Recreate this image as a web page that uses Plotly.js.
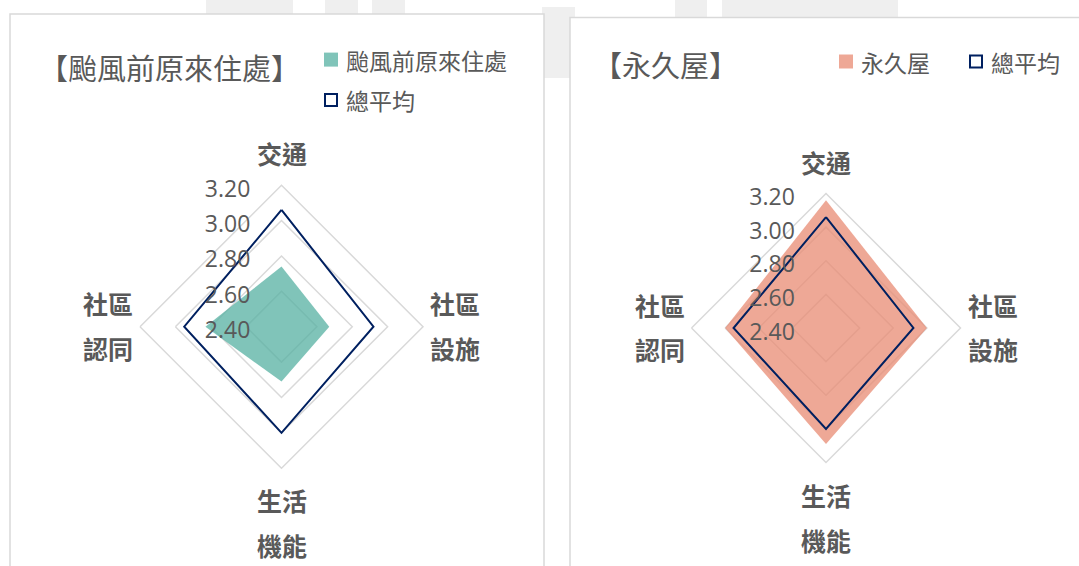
<!DOCTYPE html>
<html>
<head>
<meta charset="utf-8">
<script src="https://cdn.plot.ly/plotly-3.0.1.min.js"></script>
<style>
html,body{margin:0;padding:0;background:#ffffff;}
#chart{width:1079px;height:566px;}
</style>
</head>
<body>
<div id="chart"></div>
<script>
// ---------- data ----------
const categories = ['交通', '社區設施', '生活機能', '社區認同'];
const preTyphoonName = '颱風前原來住處';
const permanentName = '永久屋';
const averageName = '總平均';
const preTyphoon = [2.74, 2.67, 2.71, 2.83];
const permanent = [3.16, 3.00, 3.09, 3.00];
const overallAvg = [3.06, 2.92, 3.00, 2.95];
const radialTicks = [2.40, 2.60, 2.80, 3.00, 3.20];
const radialRange = [2.40, 3.20];
const panelTitles = ['【颱風前原來住處】', '【永久屋】'];

// ---------- style ----------
const W = 1079, H = 566;
const TEXT = '#595959';
const GRID = '#D9D9D9';
const NAVY = '#002060';
const TEAL = 'rgba(86,176,162,0.75)';
const SALMON = 'rgba(232,139,115,0.75)';
const CJK = '"Noto Sans CJK TC", "Noto Sans", sans-serif';
const NUM = '"Open Sans", "Noto Sans", sans-serif';

const px = x => x / W;
const py = y => 1 - y / H;

const panels = [
  {cx: 281.5, cy: 326.7, R: 141.5},
  {cx: 826.0, cy: 328.0, R: 134.5}
];

function closed(a) { return a.concat([a[0]]); }
const thetaClosed = closed(categories);

const traces = [
  {type: 'scatterpolar', subplot: 'polar', r: closed(preTyphoon), theta: thetaClosed,
   mode: 'lines', fill: 'toself', fillcolor: TEAL, line: {width: 0, color: TEAL},
   name: preTyphoonName, showlegend: false, hoverinfo: 'skip'},
  {type: 'scatterpolar', subplot: 'polar', r: closed(overallAvg), theta: thetaClosed,
   mode: 'lines', line: {width: 2, color: NAVY}, name: averageName, showlegend: false},
  {type: 'scatterpolar', subplot: 'polar2', r: closed(permanent), theta: thetaClosed,
   mode: 'lines', fill: 'toself', fillcolor: SALMON, line: {width: 0, color: SALMON},
   name: permanentName, showlegend: false, hoverinfo: 'skip'},
  {type: 'scatterpolar', subplot: 'polar2', r: closed(overallAvg), theta: thetaClosed,
   mode: 'lines', line: {width: 2, color: NAVY}, name: averageName, showlegend: false}
];

function polarLayout(p) {
  return {
    domain: {x: [px(p.cx - p.R), px(p.cx + p.R)], y: [py(p.cy + p.R), py(p.cy - p.R)]},
    bgcolor: 'rgba(0,0,0,0)',
    gridshape: 'linear',
    radialaxis: {
      range: radialRange, tickvals: radialTicks, tickformat: '.2f',
      angle: 90, side: 'counterclockwise',
      showline: false, gridcolor: GRID, gridwidth: 1.5,
      ticks: 'outside', ticklen: 10, tickcolor: 'rgba(0,0,0,0)',
      tickfont: {family: NUM, size: 23, color: TEXT}
    },
    angularaxis: {
      type: 'category', categoryarray: categories, direction: 'clockwise', rotation: 90,
      showgrid: false, showline: true, linecolor: GRID, linewidth: 1.5,
      ticks: '', showticklabels: false
    }
  };
}

// shapes: watermark, panels, legend keys
const shapes = [];
function rectPx(x0, y0, x1, y1, opts) {
  return Object.assign({type: 'rect', xref: 'paper', yref: 'paper',
    x0: px(x0), x1: px(x1), y0: py(y1), y1: py(y0), layer: 'below'}, opts);
}
const wm = {fillcolor: '#EFEFEF', line: {width: 0}};
[[206, 0, 293, 14], [325, 0, 358, 14], [372, 0, 405, 14], [542, 7, 575, 78],
 [675, 0, 707, 17], [722, 0, 898, 17]].forEach(r => shapes.push(rectPx(r[0], r[1], r[2], r[3], wm)));
shapes.push(rectPx(10, 14, 544, 600, {fillcolor: '#FFFFFF', line: {color: GRID, width: 1.5}}));
shapes.push(rectPx(570, 17.5, 1100, 600, {fillcolor: '#FFFFFF', line: {color: GRID, width: 1.5}}));

// legend keys (drawn manually to match the original layout)
const legendItems = [
  {x: 324, y: 59.6, name: preTyphoonName, fill: TEAL, open: false},
  {x: 324, y: 100, name: averageName, fill: null, open: true},
  {x: 839, y: 61.5, name: permanentName, fill: SALMON, open: false},
  {x: 969, y: 61.5, name: averageName, fill: null, open: true}
];
const annotations = [];
legendItems.forEach(it => {
  if (it.open) {
    shapes.push(rectPx(it.x + 1, it.y - 6, it.x + 13, it.y + 6,
      {fillcolor: 'rgba(0,0,0,0)', line: {color: NAVY, width: 2}, layer: 'above'}));
  } else {
    shapes.push(rectPx(it.x, it.y - 7, it.x + 14, it.y + 7,
      {fillcolor: it.fill, line: {width: 0}, layer: 'above'}));
  }
  annotations.push({xref: 'paper', yref: 'paper', x: px(it.x + 20), y: py(it.y),
    xanchor: 'left', yanchor: 'middle', showarrow: false, text: it.name,
    font: {family: CJK, size: 23, color: TEXT}});
});

// titles
const titlePos = [{x: 169.5, y: 67}, {x: 665, y: 64}];
panelTitles.forEach((t, i) => annotations.push({xref: 'paper', yref: 'paper',
  x: px(titlePos[i].x), y: py(titlePos[i].y), xanchor: 'center', yanchor: 'middle',
  showarrow: false, text: t, font: {family: CJK, size: 29, color: TEXT}}));

// category labels around each radar (two characters per line)
const gap = 32, lineGap = 45;
panels.forEach(p => {
  categories.forEach((c, i) => {
    const lines = c.length > 2 ? [c.slice(0, 2), c.slice(2)] : [c];
    const ang = Math.PI / 2 - i * 2 * Math.PI / categories.length; // clockwise from top
    const d = p.R + gap;
    const ax = p.cx + d * Math.cos(ang);
    const ay = p.cy - d * Math.sin(ang);
    lines.forEach((ln, k) => {
      let yy;
      if (Math.abs(Math.sin(ang)) < 0.5) {           // side labels: centred vertically
        yy = ay - 1 + (k - (lines.length - 1) / 2) * lineGap;
      } else if (Math.sin(ang) < 0) {                 // bottom: grows downward
        yy = ay + k * lineGap;
      } else {                                        // top: grows upward
        yy = ay - (lines.length - 1 - k) * lineGap;
      }
      annotations.push({xref: 'paper', yref: 'paper', x: px(ax), y: py(yy),
        xanchor: 'center', yanchor: 'middle', showarrow: false, text: ln,
        font: {family: CJK, size: 25, color: TEXT, weight: 'bold'}});
    });
  });
});

const layout = {
  width: W, height: H,
  margin: {l: 0, r: 0, t: 0, b: 0},
  paper_bgcolor: '#FFFFFF',
  showlegend: false,
  polar: polarLayout(panels[0]),
  polar2: polarLayout(panels[1]),
  shapes: shapes,
  annotations: annotations
};

Plotly.newPlot('chart', traces, layout, {displayModeBar: false, staticPlot: true});
</script>
</body>
</html>
